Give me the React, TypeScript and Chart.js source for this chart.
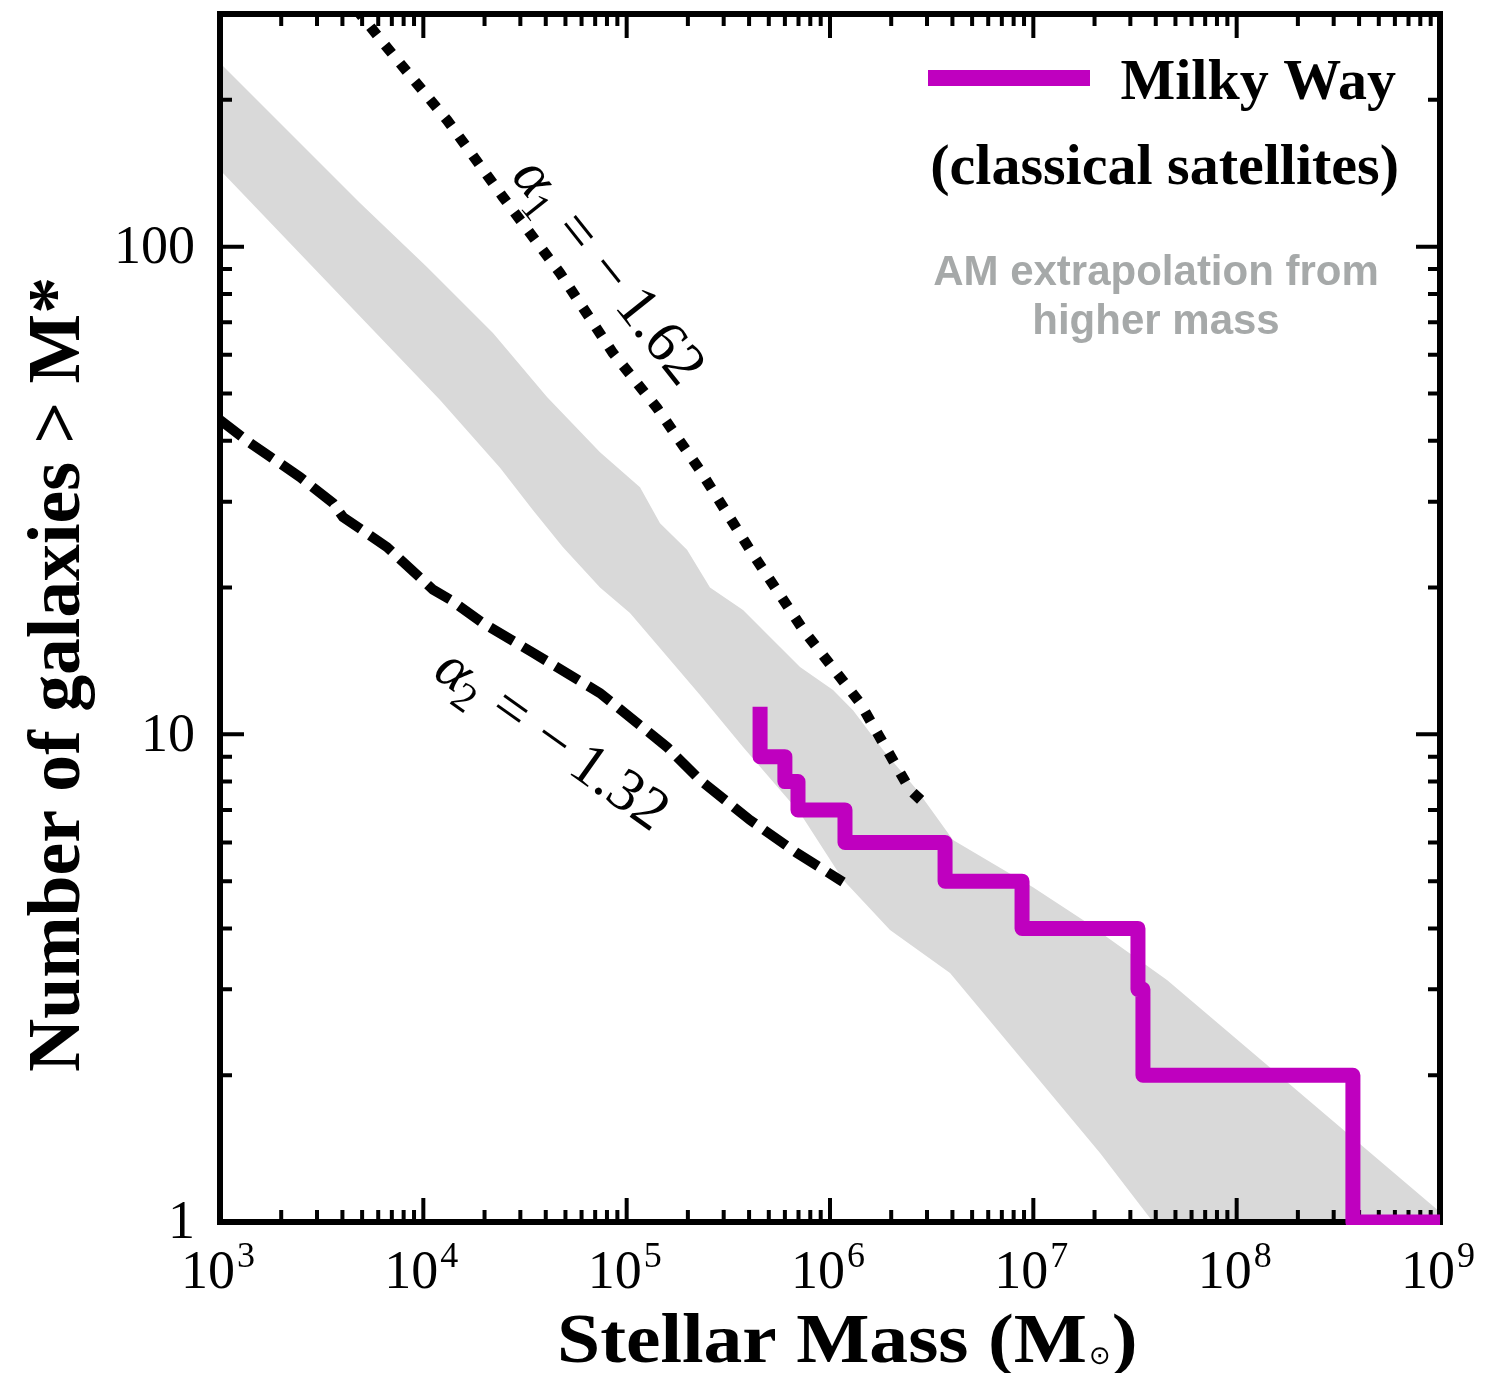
import React, { useEffect, useRef } from "react";
import { Chart, registerables } from "chart.js";

Chart.register(...registerables);

// ---------------- data ----------------
const xTickExponents = [3, 4, 5, 6, 7, 8, 9];
const yTickValues = [1, 10, 100];
const yTickLabels = ["1", "10", "100"];

// Milky Way classical satellites (cumulative counts, step positions)
const mwStepMass = [4.53e5, 6.0e5, 6.96e5, 1.185e6, 3.68e6, 8.8e6, 3.27e7, 3.46e7, 3.73e8];
const mwCountLeft = [11, 9, 8, 7, 6, 5, 4, 3, 2];
const mwCountRight = [9, 8, 7, 6, 5, 4, 3, 2, 1];
const mwEndMass = 1e9;

// alpha1 = -1.62 (dotted)
const alpha1Mass = [3936, 6479, 13080, 24650, 47000, 85670, 141000, 229500, 404300, 736700, 1.405e6, 2.475e6, 3.034e6];
const alpha1N = [335.8, 259.1, 181.8, 126.4, 88.3, 60.5, 46.7, 34.8, 23.9, 16.4, 11.6, 7.69, 7.1];

// alpha2 = -1.32 (dashed)
const alpha2Mass = [1000, 1404, 2474, 3595, 4026, 6627, 11160, 13530, 19660, 34630, 73950, 157900, 229500, 404300, 688300, 1.159e6];
const alpha2N = [44.1, 39.6, 33.7, 29.8, 27.9, 24.2, 19.8, 18.9, 16.9, 14.7, 12.15, 9.42, 8.06, 6.67, 5.71, 4.98];

// AM extrapolation band
const bandUpperMass = [1e3, 4882, 10420, 22010, 40580, 73950, 116300, 145900, 198100, 256900, 373400, 567700, 712000, 1.035e6, 1.298e6, 1.823e6, 2.679e6, 4.027e6, 9.96e6, 1.755e7, 4.544e7, 2.049e8, 1e9];
const bandUpperN = [238, 122.9, 90.8, 66.5, 49.2, 37.9, 32.1, 27.1, 23.9, 20.0, 17.98, 15.1, 13.74, 12.33, 11.21, 9.29, 7.69, 6.07, 4.86, 4.16, 3.135, 1.838, 1.048];
const bandLowerMass = [1e3, 12080, 23830, 34630, 48630, 73950, 103800, 134800, 229500, 373400, 712000, 1.159e6, 1.973e6, 3.892e6, 2.128e7, 3.878e7, 1e9];
const bandLowerN = [143.6, 48.5, 35.2, 28.8, 24.2, 20.0, 17.74, 15.61, 12.04, 9.42, 6.9, 5.03, 3.97, 3.24, 1.385, 1.0, 1.0];

const X_MIN = 1e3;
const X_MAX = 1e9;
const Y_MIN = 1;
const Y_MAX = 300;

// ---------------- helpers ----------------
const SERIF = '"Liberation Serif", "Times New Roman", serif';
const SANS = '"Liberation Sans", Arial, sans-serif';

function drawFrame(chart: any) {
  const { ctx, chartArea: a, scales } = chart;
  const x = scales.x;
  const y = scales.y;
  ctx.save();
  ctx.strokeStyle = "#000";
  ctx.lineCap = "butt";
  const MAJ = 24;
  const MIN = 12;
  ctx.lineWidth = 4;
  for (let e = 3; e <= 9; e++) {
    for (let m = 1; m <= 9; m++) {
      const v = m * Math.pow(10, e);
      if (v > X_MAX * 1.0001) break;
      const px = x.getPixelForValue(v);
      const len = m === 1 ? MAJ : MIN;
      ctx.beginPath();
      ctx.moveTo(px, a.bottom);
      ctx.lineTo(px, a.bottom - len);
      ctx.moveTo(px, a.top);
      ctx.lineTo(px, a.top + len);
      ctx.stroke();
    }
  }
  for (let e = 0; e <= 2; e++) {
    for (let m = 1; m <= 9; m++) {
      const v = m * Math.pow(10, e);
      if (v >= Y_MAX * 0.999) break;
      const py = y.getPixelForValue(v);
      const len = m === 1 ? MAJ : MIN;
      ctx.beginPath();
      ctx.moveTo(a.left, py);
      ctx.lineTo(a.left + len, py);
      ctx.moveTo(a.right, py);
      ctx.lineTo(a.right - len, py);
      ctx.stroke();
    }
  }
  ctx.lineWidth = 6;
  ctx.strokeRect(a.left, a.top, a.right - a.left, a.bottom - a.top);
  ctx.restore();
}

function drawPieces(ctx: any, pieces: any[], startX: number, baseY: number) {
  let cx = startX;
  for (const p of pieces) {
    ctx.font = p.font;
    ctx.fillText(p.t, cx, baseY + (p.dy || 0));
    cx += ctx.measureText(p.t).width + (p.gap || 0);
  }
}

function piecesWidth(ctx: any, pieces: any[]) {
  let w = 0;
  for (const p of pieces) {
    ctx.font = p.font;
    w += ctx.measureText(p.t).width + (p.gap || 0);
  }
  return w;
}

function drawAlphaLabel(chart: any, mass: number, n: number, angleDeg: number, sub: string, value: string) {
  const { ctx, scales } = chart;
  const cx = scales.x.getPixelForValue(mass);
  const cy = scales.y.getPixelForValue(n);
  const F = 60;
  const pieces = [
    { t: "α", font: `italic ${F}px ${SERIF}`, gap: -2 },
    { t: sub, font: `${Math.round(F * 0.68)}px ${SERIF}`, dy: F * 0.2, gap: F * 0.3 },
    { t: "=", font: `${F}px ${SERIF}`, gap: F * 0.3 },
    { t: "−", font: `${F}px ${SERIF}`, gap: F * 0.2 },
    { t: value, font: `${F}px ${SERIF}` },
  ];
  ctx.save();
  ctx.translate(cx, cy);
  ctx.rotate((angleDeg * Math.PI) / 180);
  ctx.fillStyle = "#000";
  ctx.textBaseline = "alphabetic";
  ctx.textAlign = "left";
  const w = piecesWidth(ctx, pieces);
  drawPieces(ctx, pieces, -w / 2, F * 0.33);
  ctx.restore();
}

function drawDecorations(chart: any) {
  const { ctx, chartArea: a, scales } = chart;
  const x = scales.x;
  const y = scales.y;
  ctx.save();
  ctx.fillStyle = "#000";
  ctx.textBaseline = "alphabetic";
  ctx.textAlign = "left";

  // x tick labels 10^n
  const bigF = `54px ${SERIF}`;
  const supF = `36px ${SERIF}`;
  for (const e of xTickExponents) {
    const px = x.getPixelForValue(Math.pow(10, e));
    ctx.font = bigF;
    const w10 = ctx.measureText("10").width;
    ctx.font = supF;
    const we = ctx.measureText(String(e)).width;
    const total = w10 + 2 + we;
    const sx = px - total / 2 - 2;
    ctx.font = bigF;
    ctx.fillText("10", sx, a.bottom + 66);
    ctx.font = supF;
    ctx.fillText(String(e), sx + w10 + 2, a.bottom + 45);
  }

  // y tick labels
  ctx.textAlign = "right";
  ctx.textBaseline = "middle";
  ctx.font = `54px ${SERIF}`;
  yTickValues.forEach((v, i) => {
    const py = y.getPixelForValue(v);
    ctx.fillText(yTickLabels[i], a.left - 25, py + 2);
  });

  // x axis title
  ctx.textBaseline = "alphabetic";
  ctx.textAlign = "left";
  {
    const main = "Stellar Mass (M";
    const F = 70;
    ctx.font = `bold ${F}px ${SERIF}`;
    const w = ctx.measureText(main).width;
    const target = 530;
    const s = target / w;
    const x0 = 557;
    const base = 1362;
    ctx.save();
    ctx.translate(x0, base);
    ctx.scale(s, 1);
    ctx.fillText(main, 0, 0);
    ctx.restore();
    ctx.font = `26px "DejaVu Sans", sans-serif`;
    ctx.fillText("⊙", x0 + target + 2, base + 2);
    const wsun = ctx.measureText("⊙").width;
    ctx.font = `bold ${F}px ${SERIF}`;
    ctx.save();
    ctx.translate(x0 + target + 3 + wsun, base);
    ctx.scale(s, 1);
    ctx.fillText(")", 0, 0);
    ctx.restore();
  }

  // y axis title
  {
    const t = "Number of galaxies > M*";
    const F = 74;
    ctx.font = `bold ${F}px ${SERIF}`;
    const w = ctx.measureText(t).width;
    const target = 795;
    const s = target / w;
    ctx.save();
    ctx.translate(79, 1072);
    ctx.rotate(-Math.PI / 2);
    ctx.scale(s, 1);
    ctx.fillText(t, 0, 0);
    ctx.restore();
  }

  // legend
  ctx.save();
  ctx.strokeStyle = "#BF00BF";
  ctx.lineWidth = 16;
  ctx.lineCap = "butt";
  ctx.beginPath();
  ctx.moveTo(928, 78);
  ctx.lineTo(1090, 78);
  ctx.stroke();
  ctx.restore();
  ctx.textAlign = "right";
  ctx.textBaseline = "alphabetic";
  ctx.font = `bold 58px ${SERIF}`;
  ctx.fillText("Milky Way", 1396, 99);
  ctx.fillText("(classical satellites)", 1399, 184);

  ctx.textAlign = "center";
  ctx.fillStyle = "#A6A9A9";
  ctx.font = `bold 42px ${SANS}`;
  ctx.fillText("AM extrapolation from", 1156, 285);
  ctx.fillText("higher mass", 1156, 334);

  ctx.restore();

  // alpha labels
  drawAlphaLabel(chart, 82800, 89.5, 51.5, "1", "1.62");
  drawAlphaLabel(chart, 43450, 9.83, 35.4, "2", "1.32");
}

const overlayPlugin = {
  id: "overlay",
  beforeDatasetDraw(chart: any, args: any) {
    if (args.index === 0) drawFrame(chart);
  },
  afterDraw(chart: any) {
    drawDecorations(chart);
  },
};

export default function App() {
  const canvasRef = useRef<HTMLCanvasElement | null>(null);

  useEffect(() => {
    const canvas = canvasRef.current;
    if (!canvas) return;

    const mwPoints: { x: number; y: number }[] = [];
    mwStepMass.forEach((m, i) => {
      mwPoints.push({ x: m, y: mwCountLeft[i] });
      mwPoints.push({ x: m, y: mwCountRight[i] });
    });
    mwPoints.push({ x: mwEndMass, y: mwCountRight[mwCountRight.length - 1] });

    const alpha1Points = alpha1Mass.map((m, i) => ({ x: m, y: alpha1N[i] }));
    const alpha2Points = alpha2Mass.map((m, i) => ({ x: m, y: alpha2N[i] }));
    const bandPoints = [
      ...bandUpperMass.map((m, i) => ({ x: m, y: bandUpperN[i] })),
      ...bandLowerMass.map((m, i) => ({ x: m, y: bandLowerN[i] })).reverse(),
    ];

    const chart = new Chart(canvas, {
      type: "line",
      data: {
        datasets: [
          {
            label: "Milky Way (classical satellites)",
            data: mwPoints,
            borderColor: "#BF00BF",
            borderWidth: 15,
            borderJoinStyle: "round",
            borderCapStyle: "square",
            pointRadius: 0,
            fill: false,
            tension: 0,
            clip: { left: 0, top: 0, right: 0, bottom: 3 },
          },
          {
            label: "alpha1 = -1.62",
            data: alpha1Points,
            borderColor: "#000",
            borderWidth: 10.5,
            borderDash: [10.5, 13],
            borderCapStyle: "butt",
            pointRadius: 0,
            fill: false,
            tension: 0,
          },
          {
            label: "alpha2 = -1.32",
            data: alpha2Points,
            borderColor: "#000",
            borderWidth: 10,
            borderDash: [27, 11],
            borderCapStyle: "butt",
            pointRadius: 0,
            fill: false,
            tension: 0,
          },
          {
            label: "AM extrapolation from higher mass",
            data: bandPoints,
            borderColor: "rgba(0,0,0,0)",
            borderWidth: 0,
            backgroundColor: "#D9D9D9",
            pointRadius: 0,
            fill: "shape",
            tension: 0,
          },
        ],
      } as any,
      options: {
        responsive: false,
        maintainAspectRatio: false,
        devicePixelRatio: 1,
        animation: false,
        events: [],
        layout: { padding: { left: 220, right: 69, top: 14, bottom: 151 } },
        plugins: {
          legend: { display: false },
          tooltip: { enabled: false },
        },
        scales: {
          x: { type: "logarithmic", min: X_MIN, max: X_MAX, display: false },
          y: { type: "logarithmic", min: Y_MIN, max: Y_MAX, display: false },
        },
      } as any,
      plugins: [overlayPlugin],
    });

    return () => chart.destroy();
  }, []);

  return (
    <div
      style={{
        position: "fixed",
        left: 0,
        top: 0,
        width: 1509,
        height: 1373,
        background: "#fff",
      }}
    >
      <canvas ref={canvasRef} width={1509} height={1373} style={{ display: "block" }} />
    </div>
  );
}
